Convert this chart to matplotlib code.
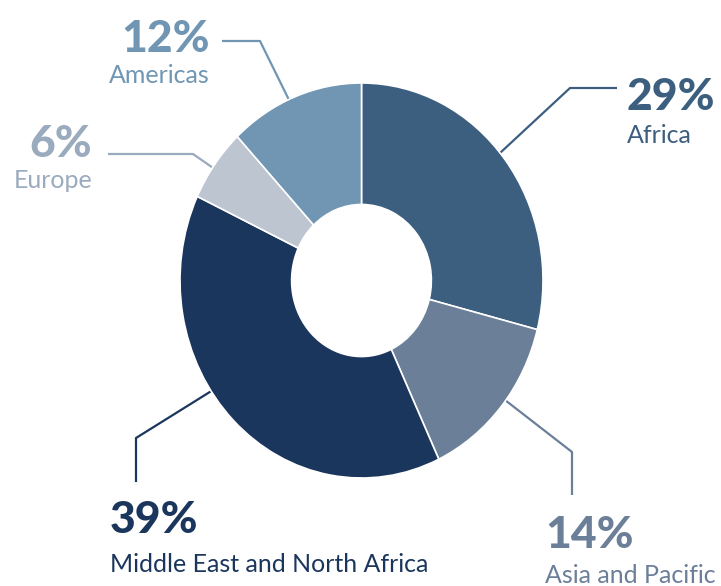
import matplotlib.pyplot as plt

# data
regions = ['Africa', 'Asia and Pacific', 'Middle East and North Africa', 'Europe', 'Americas']
shares = [29, 14, 39, 6, 12]
colors = ['#3d5f7f', '#6c7f99', '#1b365d', '#bcc5d0', '#7096b3']
text_colors = ['#3d5f7f', '#6c7f99', '#1b365d', '#9aabbe', '#7096b3']

W, H = 721, 586
cx, cy, rx, ry = 361.5, 280.5, 181.5, 197.5


def px(x, y):
    # pixel (from top-left) -> data coords of the pie axes
    return (x - cx) / rx, (cy - y) / ry


fig = plt.figure(figsize=(W / 100, H / 100), dpi=100)
ax = fig.add_axes([0, 0, 1, 1])

ax.pie(shares, colors=colors, startangle=90, counterclock=False, radius=1,
       wedgeprops=dict(width=0.615, edgecolor='white', linewidth=1.2))
ax.set_aspect('auto')
ax.set_xlim(-cx / rx, (W - cx) / rx)
ax.set_ylim(-(H - cy) / ry, cy / ry)
ax.axis('off')

# label layout: (number baseline, name baseline, x, alignment, leader line in px)
layout = {
    'Africa': (110, 143, 627, 'left', [(617, 88), (570, 88), (500, 153)]),
    'Asia and Pacific': (548, 583, 545, 'left', [(572, 495), (572, 452), (505, 400)]),
    'Middle East and North Africa': (533, 572, 110, 'left', [(136, 482), (136, 438), (213, 390)]),
    'Europe': (157, 188, 92, 'right', [(108, 154), (193, 154), (216, 170)]),
    'Americas': (52, 83, 210, 'right', [(222, 41), (260, 41), (290, 102)]),
}

for name, val, tc in zip(regions, shares, text_colors):
    yb1, yb2, x, ha, line = layout[name]
    xs, ys = zip(*[px(a, b) for a, b in line])
    ax.plot(xs, ys, color=tc, lw=1.6, zorder=0, solid_capstyle='butt')
    ax.text(*px(x, yb1), f'{val}%', ha=ha, va='baseline', color=tc,
            fontsize=32, fontweight='black', family='Lato')
    ax.text(*px(x, yb2), name, ha=ha, va='baseline', color=tc,
            fontsize=18, family='Lato')

fig.savefig('out.png', dpi=100)
